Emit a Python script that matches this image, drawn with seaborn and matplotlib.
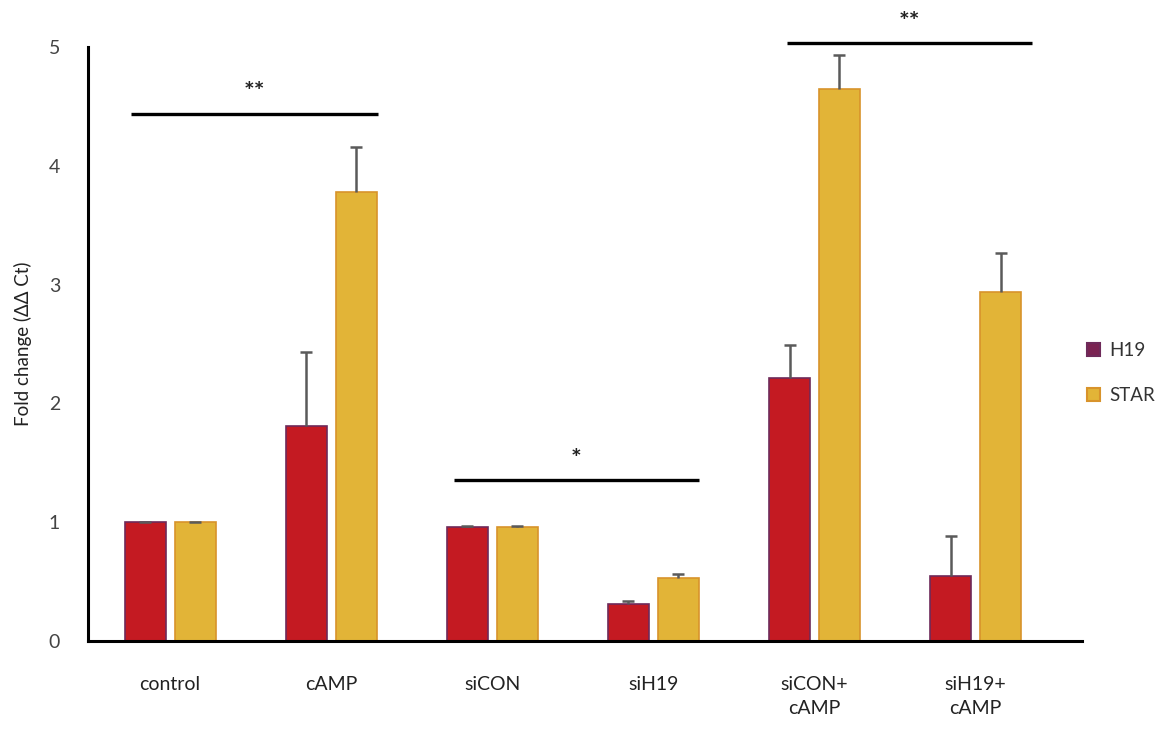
import seaborn as sns
import numpy as np
import pandas as pd
import matplotlib.pyplot as plt

# data
groups = ['control', 'cAMP', 'siCON', 'siH19', 'siCON+\ncAMP', 'siH19+\ncAMP']
genes = ['H19', 'STAR']
h19_mean = [1.00, 1.81, 0.96, 0.31, 2.21, 0.55]
h19_err = [0.005, 0.62, 0.01, 0.03, 0.28, 0.33]
star_mean = [1.00, 3.78, 0.96, 0.53, 4.65, 2.94]
star_err = [0.005, 0.38, 0.01, 0.03, 0.28, 0.33]

# significance brackets: (x start, x end, y, label)
sig_lines = [(-0.24, 1.29, 4.44, '**'), (1.76, 3.28, 1.355, '*'), (3.83, 5.35, 5.03, '**')]

df = pd.DataFrame({
    'group': groups * 2,
    'gene': ['H19'] * len(groups) + ['STAR'] * len(groups),
    'value': h19_mean + star_mean,
})

sns.set_style('white')
plt.rcParams['font.family'] = ['Lato', 'DejaVu Sans']

fig = plt.figure(figsize=(11.67, 7.29), dpi=100)
ax = fig.add_axes([0.0754, 0.1207, 0.8517, 0.8148])

face = {'H19': '#C41A22', 'STAR': '#E2B437'}
edge = {'H19': '#6E2A5A', 'STAR': '#D8932B'}

sns.barplot(data=df, x='group', y='value', hue='gene', hue_order=genes, order=groups,
            palette=face, saturation=1, width=0.62, gap=0.18, errorbar=None, ax=ax, legend=False)

errs = {'H19': h19_err, 'STAR': star_err}
means = {'H19': h19_mean, 'STAR': star_mean}
for gene, cont in zip(genes, ax.containers):
    xs = []
    for bar in cont:
        bar.set_edgecolor(edge[gene])
        bar.set_linewidth(1.2)
        xs.append(bar.get_x() + bar.get_width() / 2)
    tops = np.array(means[gene]) + np.array(errs[gene])
    # upper-only error bars
    ax.vlines(xs, means[gene], tops, color='#5a5a5a', lw=1.8, zorder=3)
    ax.plot(xs, tops, ls='none', marker='_', ms=9, mew=1.8, color='#5a5a5a', zorder=3)

for x0, x1, y, lab in sig_lines:
    ax.plot([x0, x1], [y, y], color='black', lw=2.4, clip_on=False, solid_capstyle='butt')
    ax.text((x0 + x1) / 2, y + 0.08, lab, ha='center', va='bottom', fontsize=18,
            fontweight='bold', color='#222222', clip_on=False)

ax.set_xlim(-0.51, 5.66)
ax.set_ylim(0, 5)
ax.set_yticks(np.arange(0, 6, 1))
ax.tick_params(axis='y', length=0, pad=20, labelsize=14, labelcolor='#444444')
ax.tick_params(axis='x', length=0, pad=25, labelsize=14, labelcolor='#222222')
for t in ax.get_xticklabels():
    t.set_linespacing(1.55)
ax.set_xlabel('')
ax.set_ylabel('Fold change (ΔΔ Ct)', fontsize=13.5, color='#222222', labelpad=12)

for s in ['top', 'right']:
    ax.spines[s].set_visible(False)
for s in ['left', 'bottom']:
    ax.spines[s].set_color('black')
    ax.spines[s].set_linewidth(2.2)

handles = [plt.Rectangle((0, 0), 1, 1, facecolor=face[g], edgecolor=edge[g], lw=1.5) for g in genes]
handles[0].set_facecolor('#7A2352')
fig.legend(handles, genes, loc='center left', bbox_to_anchor=(1070 / 1167, 1 - 373 / 729),
           frameon=False, fontsize=13.5, handlelength=0.7, handleheight=0.7,
           labelspacing=1.5, handletextpad=0.5, labelcolor='#333333')

fig.savefig('out.png', dpi=100)
